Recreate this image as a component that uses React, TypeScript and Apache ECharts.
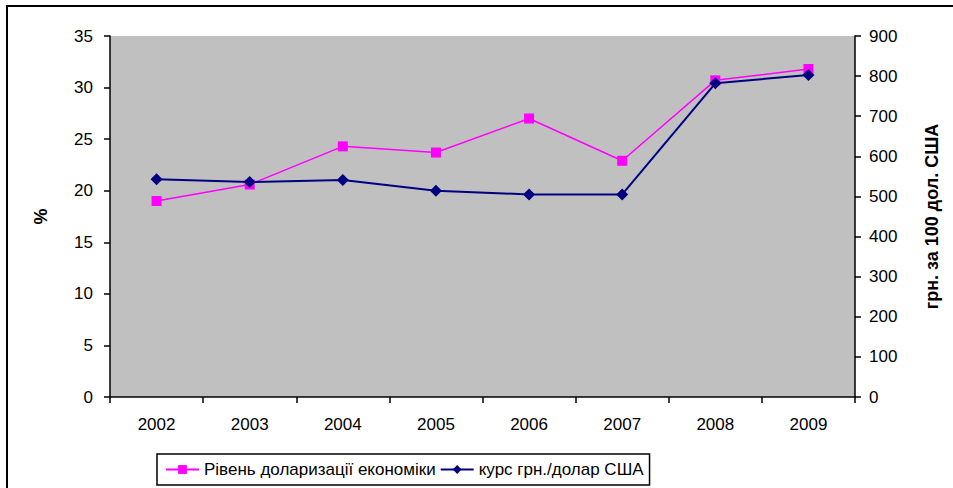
import React, { useEffect, useRef } from "react";
import * as echarts from "echarts";

const years = ["2002", "2003", "2004", "2005", "2006", "2007", "2008", "2009"];
const dollarization = [19.0, 20.6, 24.3, 23.7, 27.0, 22.9, 30.7, 31.8];
const exchangeRate = [543, 536, 541, 514, 505, 505, 782, 803];

const FONT = "'Liberation Sans', Arial, sans-serif";

export default function App() {
  const ref = useRef<HTMLDivElement>(null);

  useEffect(() => {
    if (!ref.current) return;
    const chart = echarts.init(ref.current, undefined, { renderer: "svg" });
    const axisLine = { show: true, lineStyle: { color: "#000", width: 1.5 } };
    const axisTick = { show: true, length: 6, lineStyle: { color: "#000", width: 1.5 } };
    const label = { color: "#000", fontSize: 17, fontFamily: FONT };
    const titleStyle = { color: "#000", fontSize: 18, fontWeight: "bold", fontFamily: FONT };
    chart.setOption({
      animation: false,
      backgroundColor: "#fff",
      textStyle: { fontFamily: FONT },
      graphic: [
        {
          type: "rect",
          shape: { x: 7, y: 6, width: 1000, height: 1000 },
          style: { fill: "none", stroke: "#000", lineWidth: 2 },
          z: 100,
        },
      ],
      grid: {
        left: 110,
        right: 98,
        top: 36,
        bottom: 91,
        show: true,
        backgroundColor: "#C0C0C0",
        borderWidth: 0,
      },
      legend: {
        left: 157,
        top: 454,
        padding: [7, 6, 7, 8],
        itemGap: 4,
        itemWidth: 33,
        itemHeight: 11,
        borderColor: "#000",
        borderWidth: 1.5,
        backgroundColor: "#fff",
        textStyle: { color: "#000", fontSize: 17, fontFamily: FONT },
        data: ["Рівень доларизації економіки", "курс грн./долар США"],
      },
      xAxis: {
        type: "category",
        data: years,
        boundaryGap: true,
        axisLine,
        axisTick: { ...axisTick, alignWithLabel: false },
        axisLabel: { ...label, margin: 19 },
        splitLine: { show: false },
      },
      yAxis: [
        {
          type: "value",
          min: 0,
          max: 35,
          interval: 5,
          position: "left",
          name: "%",
          nameLocation: "middle",
          nameRotate: 90,
          nameGap: 60,
          nameTextStyle: titleStyle,
          axisLine,
          axisTick,
          axisLabel: { ...label, margin: 17 },
          splitLine: { show: false },
        },
        {
          type: "value",
          min: 0,
          max: 900,
          interval: 100,
          position: "right",
          name: "грн. за 100 дол. США",
          nameLocation: "middle",
          nameRotate: 90,
          nameGap: 68,
          nameTextStyle: titleStyle,
          axisLine,
          axisTick,
          axisLabel: { ...label, margin: 14 },
          splitLine: { show: false },
        },
      ],
      series: [
        {
          name: "Рівень доларизації економіки",
          type: "line",
          yAxisIndex: 0,
          data: dollarization,
          symbol: "rect",
          symbolSize: 10,
          color: "#FF00FF",
          lineStyle: { color: "#FF00FF", width: 1.5 },
          itemStyle: { color: "#FF00FF" },
        },
        {
          name: "курс грн./долар США",
          type: "line",
          yAxisIndex: 1,
          data: exchangeRate,
          symbol: "diamond",
          symbolSize: 12,
          color: "#000080",
          lineStyle: { color: "#000080", width: 2 },
          itemStyle: { color: "#000080" },
        },
      ],
    });
    return () => chart.dispose();
  }, []);

  return (
    <div
      ref={ref}
      style={{ position: "fixed", left: 0, top: 0, width: 953, height: 488 }}
    />
  );
}
